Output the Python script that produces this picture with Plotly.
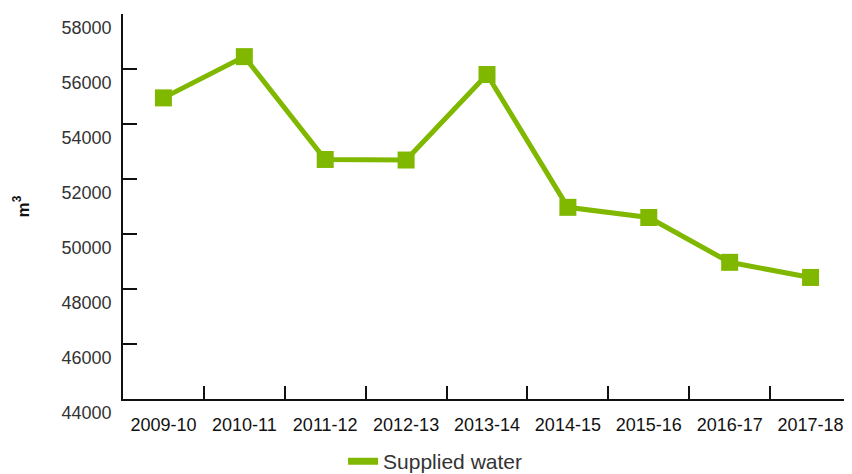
import plotly.graph_objects as go

# Supplied water per financial year (m3)
years = ["2009-10", "2010-11", "2011-12", "2012-13", "2013-14",
         "2014-15", "2015-16", "2016-17", "2017-18"]
supplied_water = [54950, 56450, 52710, 52690, 55800, 50970, 50600, 48970, 48420]

green = "#80B800"

fig = go.Figure()
fig.add_trace(go.Scatter(
    x=years,
    y=supplied_water,
    mode="lines+markers",
    line=dict(color=green, width=5),
    marker=dict(symbol="square", size=17, color=green),
    showlegend=False,
))
# legend entry shows only the line
fig.add_trace(go.Scatter(
    x=[None], y=[None],
    mode="lines",
    line=dict(color=green, width=7),
    name="Supplied water",
))

# page body adds an 8px margin; the figure is shifted by 8px and its
# bottom runs past the window so the legend is not clipped
fig.update_layout(
    width=844, height=480,
    margin=dict(l=115, r=1, t=6, b=89),
    plot_bgcolor="white",
    paper_bgcolor="white",
    font=dict(family="Liberation Sans, Arial, sans-serif", size=18, color="#333333"),
    legend=dict(orientation="h", xref="container", x=0.397, xanchor="left",
                yref="container", y=0.055, yanchor="middle", font=dict(size=21)),
)
fig.update_xaxes(
    type="category",
    range=[-0.5, 8.5],
    automargin=False,
    showline=True, linecolor="#111111", linewidth=1.5,
    ticks="inside", tickson="boundaries", ticklen=13, tickwidth=1.5, tickcolor="#111111",
    ticklabelstandoff=9,
    ticklabeloverflow="allow",
    tickfont=dict(color="#111111"),
    showgrid=False, zeroline=False,
)
fig.update_yaxes(
    range=[44000, 58000],
    dtick=2000,
    tickformat="d",
    automargin=False,
    showline=True, linecolor="#111111", linewidth=1.5,
    ticks="inside", ticklen=14, tickwidth=1.5, tickcolor="#111111",
    ticklabelposition="outside bottom",
    ticklabelstandoff=6,
    ticklabeloverflow="allow",
    showgrid=False, zeroline=False,
    title=dict(text="<b>m<sup>3</sup></b>", standoff=28, font=dict(size=17, color="#111111")),
)

fig.write_html("out.html")
